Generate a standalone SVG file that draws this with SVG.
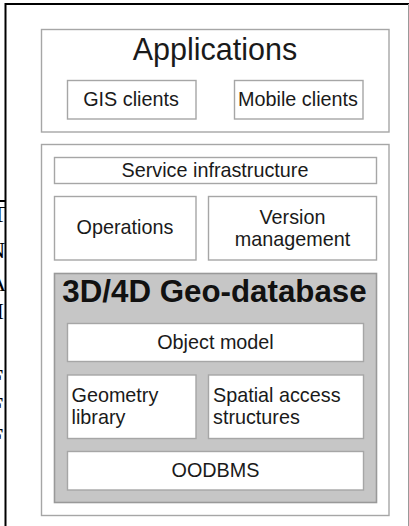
<svg xmlns="http://www.w3.org/2000/svg" width="409" height="526" viewBox="0 0 409 526">
<style>
.box{fill:#fff;stroke:#a6a6a6;stroke-width:1.4}
.db{fill:#c6c6c6;stroke:#999;stroke-width:1.6}
.t{font-family:"Liberation Sans",Arial,sans-serif;font-size:19.8px;fill:#1a1a1a}
.c{text-anchor:middle}
.frag{font-family:"Liberation Serif","Times New Roman",serif;font-size:24px;fill:#000}
</style>
<defs>
<clipPath id="leftclip"><rect x="0" y="0" width="5" height="526"/></clipPath>
</defs>
<rect width="409" height="526" fill="#fff"/>
<g id="frame">
<line x1="5" y1="4" x2="409" y2="4" stroke="#000" stroke-width="2"/>
<line x1="5.5" y1="3" x2="5.5" y2="526" stroke="#000" stroke-width="2"/>
<line x1="408.5" y1="4" x2="408.5" y2="526" stroke="#999" stroke-width="1"/>
<line x1="0" y1="201" x2="5" y2="201" stroke="#000" stroke-width="2"/>
<g clip-path="url(#leftclip)">
<text class="frag" x="-8" y="222">T</text>
<text class="frag" x="-12" y="258">N</text>
<text class="frag" x="-11" y="291">A</text>
<text class="frag" x="-4" y="319">I</text>
<text class="frag" x="-10" y="385">F</text>
<text class="frag" x="-10" y="413">F</text>
<text class="frag" x="-10" y="444">F</text>
</g>
</g>
<g id="applications">
<rect class="box" x="41.5" y="29.5" width="347.5" height="102.5"/>
<text class="t c" x="215" y="60" style="font-size:30.5px">Applications</text>
</g>
<g id="gis-clients">
<rect class="box" x="67.5" y="80.5" width="128.5" height="38.5"/>
<text class="t c" x="131" y="106">GIS clients</text>
</g>
<g id="mobile-clients">
<rect class="box" x="234.5" y="80.5" width="128.5" height="38.5"/>
<text class="t c" x="298" y="106">Mobile clients</text>
</g>
<g id="server">
<rect class="box" x="41.5" y="144.5" width="347.5" height="371"/>
</g>
<g id="service-infrastructure">
<rect class="box" x="54.5" y="157.5" width="322" height="26"/>
<text class="t c" x="215" y="176.5">Service infrastructure</text>
</g>
<g id="operations">
<rect class="box" x="54.5" y="196.5" width="141.5" height="63.5"/>
<text class="t c" x="125" y="233.5">Operations</text>
</g>
<g id="version-management">
<rect class="box" x="208.5" y="196.5" width="168" height="63.5"/>
<text class="t c" x="292.5" y="223.5">Version</text>
<text class="t c" x="292.5" y="245.5">management</text>
</g>
<g id="geo-database">
<rect class="db" x="54.5" y="273.5" width="322" height="229"/>
<text class="t c" x="214.5" y="302" style="font-size:31.3px;font-weight:bold;fill:#111">3D/4D Geo-database</text>
</g>
<g id="object-model">
<rect class="box" x="67.5" y="323.5" width="296" height="38"/>
<text class="t c" x="215.5" y="348.5">Object model</text>
</g>
<g id="geometry-library">
<rect class="box" x="67.5" y="375" width="128.5" height="63.5"/>
<text class="t" x="71.5" y="401.5">Geometry</text>
<text class="t" x="71.5" y="424">library</text>
</g>
<g id="spatial-access">
<rect class="box" x="208.5" y="375" width="155" height="63.5"/>
<text class="t" x="213" y="401.5">Spatial access</text>
<text class="t" x="213" y="424">structures</text>
</g>
<g id="oodbms">
<rect class="box" x="67.5" y="451.5" width="296" height="38.5"/>
<text class="t c" x="215.5" y="476.5">OODBMS</text>
</g>
<g id="connectors"></g>
</svg>
